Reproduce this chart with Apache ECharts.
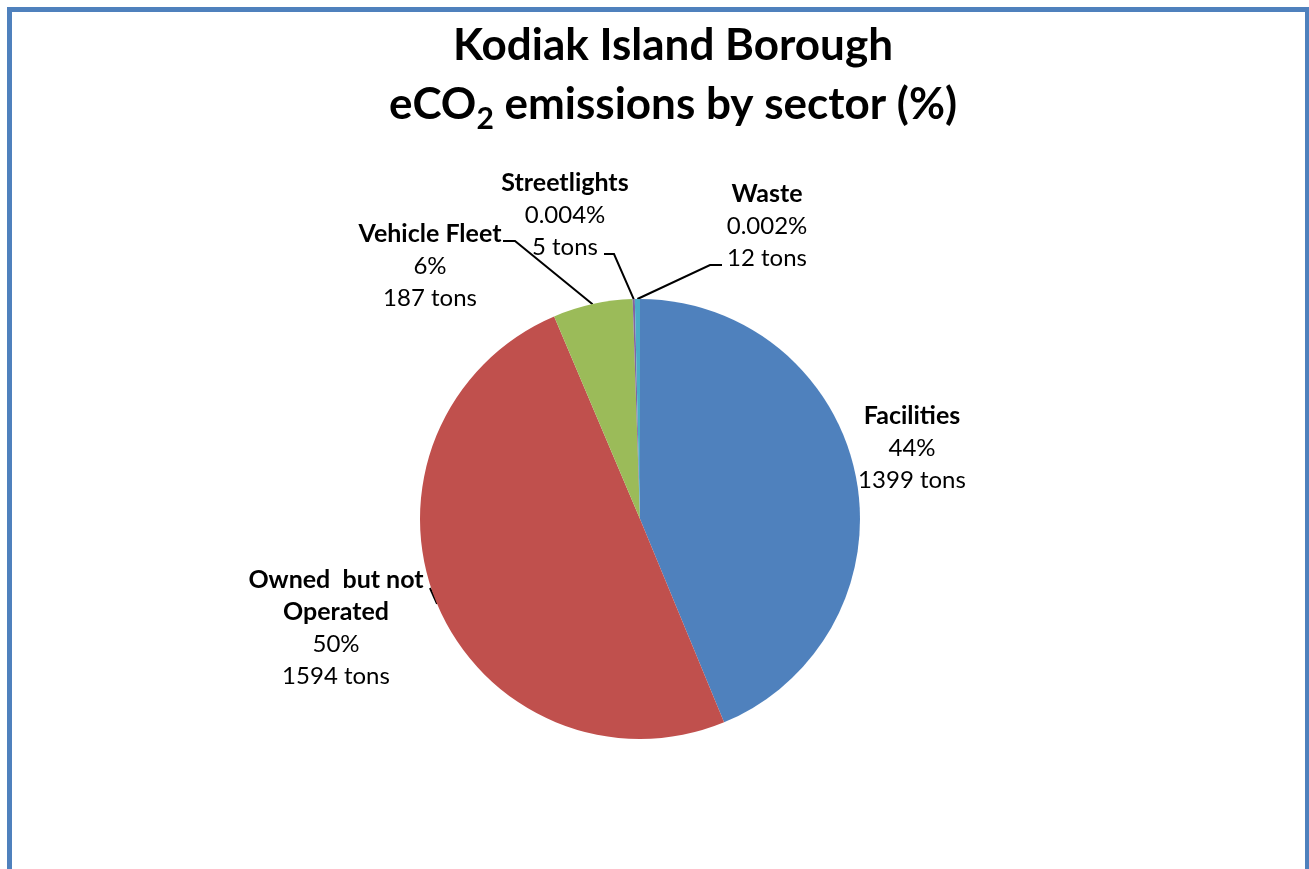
<!DOCTYPE html>
<html>
<head>
<meta charset="utf-8">
<script src="https://cdn.jsdelivr.net/npm/echarts@6/dist/echarts.min.js"></script>
<style>
html,body{margin:0;padding:0;background:#fff;}
#chart{width:1309px;height:869px;}
</style>
</head>
<body>
<div id="chart"></div>
<script>
// ---- data ----
const categories = ['Facilities', 'Owned  but not\nOperated', 'Vehicle Fleet', 'Streetlights', 'Waste'];
const tons = [1399, 1594, 187, 5, 12];
const percentLabels = ['44%', '50%', '6%', '0.004%', '0.002%'];
const colors = ['#4F81BD', '#C0504D', '#9BBB59', '#8064A2', '#4BACC6'];

// ---- label placement (layout only) ----
const labelPlace = [
  { x: 912, y: 448, line: null },
  { x: 336, y: 628, line: { ex: 94, ey: -40, elbow: 0 } },
  { x: 430, y: 266, line: { ex: 73, ey: -25, elbow: 12 } },
  { x: 565, y: 215, line: { ex: 39, ey: 39, elbow: 10 } },
  { x: 767, y: 226, line: { ex: -45, ey: 39, elbow: -12 } }
];

const FONT = 'Lato, "Noto Sans", sans-serif';

const seriesData = categories.map((name, i) => ({
  name: name,
  value: tons[i],
  itemStyle: { color: colors[i] },
  labelLine: { show: labelPlace[i].line !== null }
}));

const chart = echarts.init(document.getElementById('chart'), null, { renderer: 'canvas' });
chart.setOption({
  animation: false,
  backgroundColor: '#fff',
  graphic: [{
    type: 'rect',
    shape: { x: 9.5, y: 9.5, width: 1298, height: 900 },
    style: { fill: 'none', stroke: '#4F81BD', lineWidth: 5 },
    silent: true
  }, {
    type: 'text',
    x: 673,
    y: 16,
    style: {
      text: 'Kodiak Island Borough\neCO{sub|2} emissions by sector (%)',
      align: 'center',
      verticalAlign: 'top',
      fontFamily: FONT,
      fontSize: 44,
      fontWeight: 'bold',
      fill: '#000',
      lineHeight: 59,
      rich: {
        sub: { fontFamily: FONT, fontSize: 30, fontWeight: 'bold', fill: '#000', verticalAlign: 'bottom' }
      }
    },
    silent: true
  }],
  series: [{
    type: 'pie',
    center: [640, 519],
    radius: 220,
    startAngle: 90,
    clockwise: true,
    data: seriesData,
    itemStyle: { borderWidth: 0 },
    label: {
      show: true,
      position: 'outside',
      formatter: p => '{n|' + p.name.split('\n').join('}\n{n|') + '}\n{v|' + percentLabels[p.dataIndex] + '}\n{v|' + p.value + ' tons}',
      rich: {
        n: { fontFamily: FONT, fontSize: 25, fontWeight: 'bold', color: '#000', lineHeight: 32, align: 'center' },
        v: { fontFamily: FONT, fontSize: 24, color: '#000', lineHeight: 32, align: 'center' }
      }
    },
    labelLine: { show: true, lineStyle: { color: '#000', width: 2 } },
    labelLayout: function (params) {
      const cfg = labelPlace[params.dataIndex];
      const out = { x: cfg.x, y: cfg.y, align: 'center', verticalAlign: 'middle' };
      if (cfg.line && params.labelLinePoints) {
        const a = params.labelLinePoints[0];
        const end = [cfg.x + cfg.line.ex, cfg.y + cfg.line.ey];
        const elbow = [end[0] + cfg.line.elbow, end[1]];
        out.labelLinePoints = [a, elbow, end];
      }
      return out;
    }
  }]
});
</script>
</body>
</html>
